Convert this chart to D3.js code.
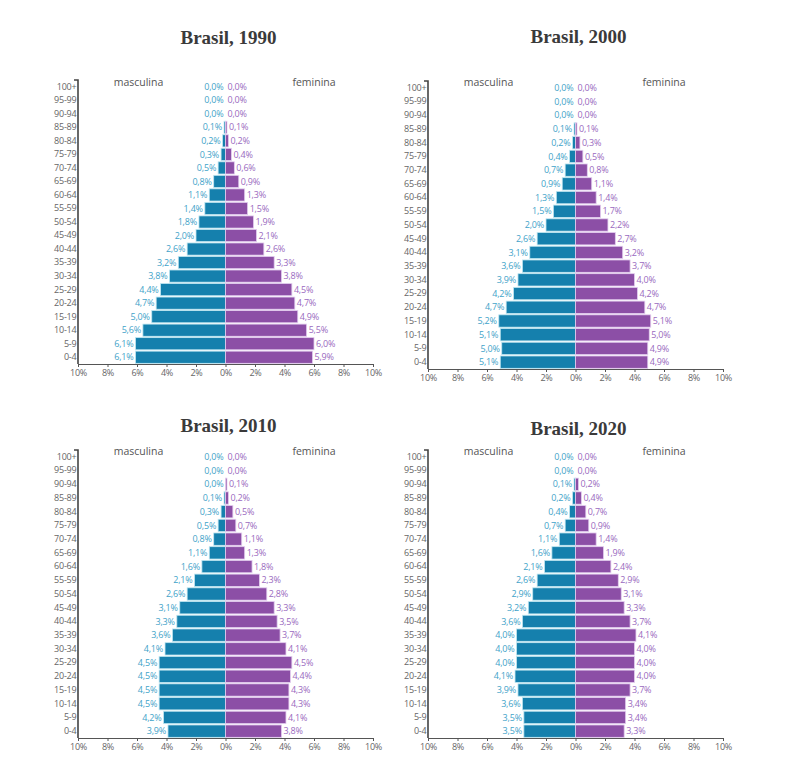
<!DOCTYPE html>
<html>
<head>
<meta charset="utf-8">
<script src="https://cdn.jsdelivr.net/npm/d3@7"></script>
<style>
  body { margin: 0; background: #fff; }
  svg text { font-family: 'Open Sans', sans-serif; }
  .title { font-family: 'Liberation Serif', serif !important; font-weight: bold; font-size: 19px; fill: #3a3a3a; }
  .sex { font-size: 10.5px; fill: #555; }
  .age { font-size: 9px; fill: #4a4a4a; letter-spacing: -0.2px; }
  .tick text { font-size: 9px; fill: #666; letter-spacing: -0.2px; }
  .val { font-size: 9px; letter-spacing: -0.2px; }
</style>
</head>
<body>
<svg id="chart" width="786" height="768"></svg>
<script>
  'use strict';

  // Age groups, top to bottom
  var ages = [ '100+', '95-99', '90-94', '85-89', '80-84', '75-79', '70-74', '65-69',
    '60-64', '55-59', '50-54', '45-49', '40-44', '35-39', '30-34', '25-29',
    '20-24', '15-19', '10-14', '5-9', '0-4' ];

  var years = [ 1990, 2000, 2010, 2020 ];

  // Share of population (%), same order as ages
  var male1990 = [ 0.0, 0.0, 0.0, 0.1, 0.2, 0.3, 0.5, 0.8, 1.1, 1.4, 1.8, 2.0, 2.6, 3.2, 3.8, 4.4, 4.7, 5.0, 5.6, 6.1, 6.1 ];
  var female1990 = [ 0.0, 0.0, 0.0, 0.1, 0.2, 0.4, 0.6, 0.9, 1.3, 1.5, 1.9, 2.1, 2.6, 3.3, 3.8, 4.5, 4.7, 4.9, 5.5, 6.0, 5.9 ];
  var male2000 = [ 0.0, 0.0, 0.0, 0.1, 0.2, 0.4, 0.7, 0.9, 1.3, 1.5, 2.0, 2.6, 3.1, 3.6, 3.9, 4.2, 4.7, 5.2, 5.1, 5.0, 5.1 ];
  var female2000 = [ 0.0, 0.0, 0.0, 0.1, 0.3, 0.5, 0.8, 1.1, 1.4, 1.7, 2.2, 2.7, 3.2, 3.7, 4.0, 4.2, 4.7, 5.1, 5.0, 4.9, 4.9 ];
  var male2010 = [ 0.0, 0.0, 0.0, 0.1, 0.3, 0.5, 0.8, 1.1, 1.6, 2.1, 2.6, 3.1, 3.3, 3.6, 4.1, 4.5, 4.5, 4.5, 4.5, 4.2, 3.9 ];
  var female2010 = [ 0.0, 0.0, 0.1, 0.2, 0.5, 0.7, 1.1, 1.3, 1.8, 2.3, 2.8, 3.3, 3.5, 3.7, 4.1, 4.5, 4.4, 4.3, 4.3, 4.1, 3.8 ];
  var male2020 = [ 0.0, 0.0, 0.1, 0.2, 0.4, 0.7, 1.1, 1.6, 2.1, 2.6, 2.9, 3.2, 3.6, 4.0, 4.0, 4.0, 4.1, 3.9, 3.6, 3.5, 3.5 ];
  var female2020 = [ 0.0, 0.0, 0.2, 0.4, 0.7, 0.9, 1.4, 1.9, 2.4, 2.9, 3.1, 3.3, 3.7, 4.1, 4.0, 4.0, 4.0, 3.7, 3.4, 3.4, 3.3 ];

  var maleSeries = [ male1990, male2000, male2010, male2020 ];
  var femaleSeries = [ female1990, female2000, female2010, female2020 ];

  var ticks = [ -10, -8, -6, -4, -2, 0, 2, 4, 6, 8, 10 ];

  // Panel placement: left axis x, plot top, x-axis y, title y
  var panels = [
    { left: 78, top: 80, bottom: 364, titleY: 44, sexY: 86 },
    { left: 428, top: 81, bottom: 369, titleY: 43, sexY: 86 },
    { left: 78, top: 450, bottom: 738, titleY: 432, sexY: 455 },
    { left: 428, top: 450, bottom: 738, titleY: 435, sexY: 455 }
  ];

  var width = 295;
  var blue = '#1580ad';
  var purple = '#8c4fa6';
  var blueText = '#3fa3c9';
  var purpleText = '#9a6ac0';

  var fmt = function( v ) {
    return v.toFixed( 1 ).replace( '.', ',' ) + '%';
  };

  var svg = d3.select( '#chart' );

  panels.forEach( function( p, k ) {
    var male = maleSeries[ k ];
    var female = femaleSeries[ k ];

    var x = d3.scaleLinear().domain( [ -10, 10 ] ).range( [ p.left, p.left + width ] );
    var y = d3.scaleBand().domain( ages ).range( [ p.top, p.bottom ] ).paddingInner( 0.1 ).paddingOuter( 0.05 );

    var g = svg.append( 'g' );

    g.append( 'text' )
      .attr( 'class', 'title' )
      .attr( 'x', x( 0 ) + 3 )
      .attr( 'y', p.titleY )
      .attr( 'text-anchor', 'middle' )
      .text( 'Brasil, ' + years[ k ] );

    g.append( 'text' )
      .attr( 'class', 'sex' )
      .attr( 'x', x( -5.9 ) )
      .attr( 'y', p.sexY )
      .attr( 'text-anchor', 'middle' )
      .text( 'masculina' );

    g.append( 'text' )
      .attr( 'class', 'sex' )
      .attr( 'x', x( 6.0 ) )
      .attr( 'y', p.sexY )
      .attr( 'text-anchor', 'middle' )
      .text( 'feminina' );

    // Male bars
    g.selectAll( '.m' )
      .data( male )
      .enter().append( 'rect' )
      .attr( 'x', function( d ) { return x( -d ); } )
      .attr( 'y', function( d, i ) { return y( ages[ i ] ); } )
      .attr( 'width', function( d ) { return x( 0 ) - x( -d ); } )
      .attr( 'height', y.bandwidth() )
      .attr( 'fill', blue )
      .attr( 'stroke', '#bfe6f2' )
      .attr( 'stroke-width', 0.8 );

    // Female bars
    g.selectAll( '.f' )
      .data( female )
      .enter().append( 'rect' )
      .attr( 'x', x( 0 ) )
      .attr( 'y', function( d, i ) { return y( ages[ i ] ); } )
      .attr( 'width', function( d ) { return x( d ) - x( 0 ); } )
      .attr( 'height', y.bandwidth() )
      .attr( 'fill', purple )
      .attr( 'stroke', '#e3cdef' )
      .attr( 'stroke-width', 0.8 );

    // Value labels
    g.selectAll( '.mv' )
      .data( male )
      .enter().append( 'text' )
      .attr( 'class', 'val' )
      .attr( 'x', function( d ) { return x( -d ) - 2; } )
      .attr( 'y', function( d, i ) { return y( ages[ i ] ) + y.bandwidth() / 2; } )
      .attr( 'dy', '.35em' )
      .attr( 'text-anchor', 'end' )
      .attr( 'fill', blueText )
      .text( fmt );

    g.selectAll( '.fv' )
      .data( female )
      .enter().append( 'text' )
      .attr( 'class', 'val' )
      .attr( 'x', function( d ) { return x( d ) + 2; } )
      .attr( 'y', function( d, i ) { return y( ages[ i ] ) + y.bandwidth() / 2; } )
      .attr( 'dy', '.35em' )
      .attr( 'fill', purpleText )
      .text( fmt );

    // Age axis
    var ya = g.append( 'g' )
      .attr( 'transform', 'translate(' + p.left + ',0)' )
      .call( d3.axisLeft( y ).tickSize( 0 ).tickPadding( 1.5 ) );
    ya.select( '.domain' ).remove();
    ya.selectAll( 'text' ).attr( 'class', 'age' );

    g.append( 'path' )
      .attr( 'd', 'M' + ( p.left - 4 ) + ',' + p.top + 'H' + p.left + 'V' + p.bottom )
      .attr( 'fill', 'none' )
      .attr( 'stroke', '#444' )
      .attr( 'stroke-width', 1.6 );

    // Percent axis
    var xa = g.append( 'g' )
      .attr( 'transform', 'translate(0,' + p.bottom + ')' )
      .call( d3.axisBottom( x ).tickValues( ticks ).tickSize( 3 ).tickSizeOuter( 0 )
        .tickFormat( function( d ) { return Math.abs( d ) + '%'; } ) );
    xa.select( '.domain' ).attr( 'stroke', '#555' ).attr( 'stroke-width', 1.2 );
    xa.selectAll( '.tick line' ).attr( 'stroke', '#555' );
  } );
</script>
</body>
</html>
